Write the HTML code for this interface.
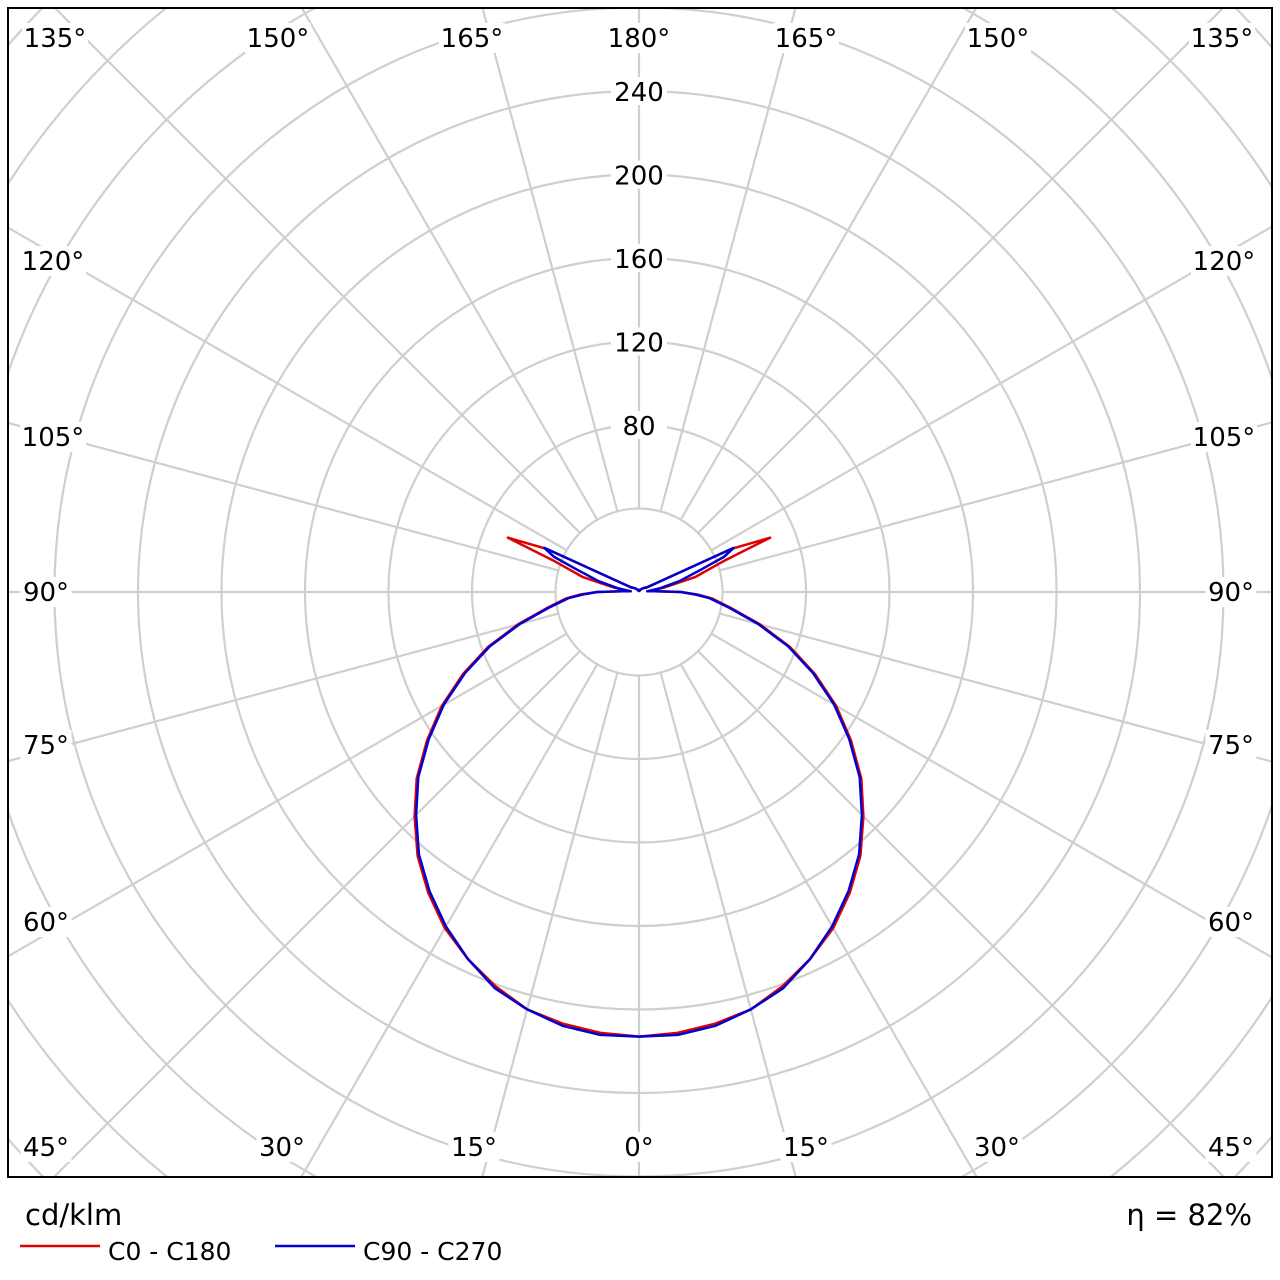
<!DOCTYPE html>
<html><head><meta charset="utf-8"><style>
html,body{margin:0;padding:0;background:#fff;width:1280px;height:1280px;overflow:hidden}
svg{display:block}
svg text{font-family:"DejaVu Sans","Liberation Sans",sans-serif}
</style></head><body>
<svg id="chart" width="1280" height="1280" viewBox="0 0 1280 1280" xmlns="http://www.w3.org/2000/svg">
<rect x="0" y="0" width="1280" height="1280" fill="#fff"/>
<defs><clipPath id="clip"><rect x="9" y="9" width="1262" height="1167"/></clipPath></defs>
<g id="grid" clip-path="url(#clip)"></g>
<g id="series" clip-path="url(#clip)"></g>
<g id="labels"></g>
<rect x="8" y="8" width="1264" height="1169" fill="none" stroke="#000" stroke-width="2"/>
<text x="25" y="1225" font-size="29">cd/klm</text>
<text x="1252" y="1225" font-size="29" text-anchor="end">η = 82%</text>
<line x1="20" y1="1246" x2="100" y2="1246" stroke="#e00000" stroke-width="2.5"/>
<text x="108" y="1260" font-size="25">C0 - C180</text>
<line x1="275" y1="1246" x2="355" y2="1246" stroke="#0000d0" stroke-width="2.5"/>
<text x="363" y="1260" font-size="25">C90 - C270</text>
</svg>
<script>
const angles = [0,5,10,15,20,25,30,35,40,45,50,55,60,65,70,75,80,85,87.5,90,92.5,95,100,105,110,112.5,115,117.5,120,130,140,150,160,170,180];
const c0Values = [213,212,210,207,201,194,186,176,165,152,139,124,109,93,77,60,45,35,28,20,8,4,12,28,43,68,49,8,5,3,2,1,1,1,0];
const c90Values = [213,213,211,207,202,194,185,175,164,151,138,123,108,92,76,59,44,34,27,20,8,4,10,20,32,44,50,8,4,3,2,1,1,1,0];
const ringValues = [40,80,120,160,200,240,280,320,360,400,440];
const ringLabels = [80,120,160,200,240];
const spokeAngles = [0,15,30,45,60,75,90,105,120,135,150,165,180];
const CX = 639, CY = 592, PX_PER_UNIT = 83.5/40;
const ns = "http://www.w3.org/2000/svg";
function rScale(v){return v*PX_PER_UNIT;}
function pt(angDeg, v, side){ const a=angDeg*Math.PI/180; const r=rScale(v); return [CX+side*r*Math.sin(a), CY+r*Math.cos(a)]; }
function mk(tag, attrs, parent){ const e=document.createElementNS(ns,tag); for(const k in attrs) e.setAttribute(k,attrs[k]); parent.appendChild(e); return e; }
const grid=document.getElementById('grid'), series=document.getElementById('series'), labels=document.getElementById('labels');
ringValues.forEach(v=>{
  const c=mk('circle',{cx:CX,cy:CY,r:rScale(v),fill:'none',stroke:'#cfcfcf','stroke-width':2.2},grid);
  
  
});
spokeAngles.forEach(a=>{
  [1,-1].forEach(s=>{
    if((a===0||a===180)&&s===-1) return;
    const p1=pt(a,40,s), p2=pt(a,600,s);
    const l=mk('line',{x1:p1[0],y1:p1[1],x2:p2[0],y2:p2[1],stroke:'#cfcfcf','stroke-width':2.2},grid);
    
    
  });
});
function drawSeries(vals,color,name){
  [1,-1].forEach(s=>{
    const d=angles.map((a,i)=>{const p=pt(a,vals[i],s);return (i?'L':'M')+p[0].toFixed(1)+' '+p[1].toFixed(1);}).join(' ');
    const p=mk('path',{d:d,fill:'none',stroke:color,'stroke-width':2.5,'stroke-linejoin':'round'},series);
    
    
  });
}
drawSeries(c0Values,'#e00000','series-c0-c180');
drawSeries(c90Values,'#0000d0','series-c90-c270');
ringLabels.forEach(v=>{
  const y=CY-rScale(v);
  const bg=mk('rect',{x:CX-28,y:y-14,width:56,height:28,fill:'#fff'},labels);
  
  
  const t=mk('text',{x:CX,y:y+10,'font-size':26,'text-anchor':'middle'},labels);
  t.textContent=String(v);
  
  
});
const angleLabels=[
 ['135°',55,47],['150°',278,47],['165°',472,47],['180°',639,47],['165°',806,47],['150°',998,47],['135°',1222,47],
 ['120°',53,270],['105°',53,446],['90°',46,601],['75°',46,754],['60°',46,931],
 ['120°',1224,270],['105°',1224,446],['90°',1231,601],['75°',1231,754],['60°',1231,931],
 ['45°',46,1156],['30°',282,1156],['15°',474,1156],['0°',639,1156],['15°',806,1156],['30°',997,1156],['45°',1231,1156]];
angleLabels.forEach(([s,x,y])=>{
  const w=s.length*15+6;
  const bg=mk('rect',{x:x-w/2,y:y-24,width:w,height:30,fill:'#fff'},labels);
  
  
  const t=mk('text',{x:x,y:y,'font-size':26,'text-anchor':'middle'},labels);
  t.textContent=s;
  
  
});
</script>
</body></html>
